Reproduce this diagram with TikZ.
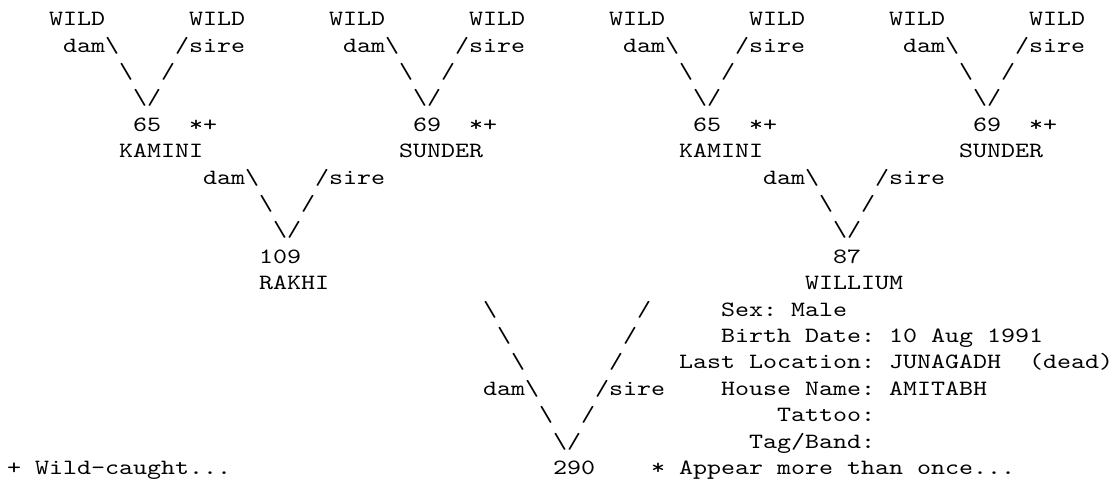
\documentclass[tikz,border=0pt]{standalone}
\usepackage{fontspec}
\setmonofont{lmmono10-regular.otf}[FakeStretch=1.224]
\newcommand{\bs}{\textbackslash}
\tikzset{
  txt/.style={anchor=base west, inner sep=0pt, outer sep=0pt,
    font=\ttfamily\fontsize{21.8}{26.4}\selectfont, text=black}
}
% \cellat{name}{col}{row}{text}
\newcommand{\cellat}[4]{\node[txt] (#1) at ({7+14*#2},{479-25.8-26.4*(#3-1)}) {#4};}
\begin{document}
\begin{tikzpicture}[x=1pt,y=1pt]
\useasboundingbox (0,0) rectangle (1118,479);
% row 1
\cellat{w1}{3}{1}{WILD}
\cellat{w2}{13}{1}{WILD}
\cellat{w3}{23}{1}{WILD}
\cellat{w4}{33}{1}{WILD}
\cellat{w5}{43}{1}{WILD}
\cellat{w6}{53}{1}{WILD}
\cellat{w7}{63}{1}{WILD}
\cellat{w8}{73}{1}{WILD}
% row 2
\cellat{d1}{4}{2}{dam\bs}
\cellat{s1}{12}{2}{/sire}
\cellat{d2}{24}{2}{dam\bs}
\cellat{s2}{32}{2}{/sire}
\cellat{d3}{44}{2}{dam\bs}
\cellat{s3}{52}{2}{/sire}
\cellat{d4}{64}{2}{dam\bs}
\cellat{s4}{72}{2}{/sire}
% row 3
\cellat{a1}{8}{3}{\bs}
\cellat{b1}{11}{3}{/}
\cellat{a2}{28}{3}{\bs}
\cellat{b2}{31}{3}{/}
\cellat{a3}{48}{3}{\bs}
\cellat{b3}{51}{3}{/}
\cellat{a4}{68}{3}{\bs}
\cellat{b4}{71}{3}{/}
% row 4
\cellat{v1}{9}{4}{\bs/}
\cellat{v2}{29}{4}{\bs/}
\cellat{v3}{49}{4}{\bs/}
\cellat{v4}{69}{4}{\bs/}
% row 5
\cellat{n1}{9}{5}{65}
\cellat{m1}{13}{5}{*+}
\cellat{n2}{29}{5}{69}
\cellat{m2}{33}{5}{*+}
\cellat{n3}{49}{5}{65}
\cellat{m3}{53}{5}{*+}
\cellat{n4}{69}{5}{69}
\cellat{m4}{73}{5}{*+}
% row 6
\cellat{k1}{8}{6}{KAMINI}
\cellat{su1}{28}{6}{SUNDER}
\cellat{k2}{48}{6}{KAMINI}
\cellat{su2}{68}{6}{SUNDER}
% row 7
\cellat{dd1}{14}{7}{dam\bs}
\cellat{ss1}{22}{7}{/sire}
\cellat{dd2}{54}{7}{dam\bs}
\cellat{ss2}{62}{7}{/sire}
% row 8
\cellat{aa1}{18}{8}{\bs}
\cellat{bb1}{21}{8}{/}
\cellat{aa2}{58}{8}{\bs}
\cellat{bb2}{61}{8}{/}
% row 9
\cellat{vv1}{19}{9}{\bs/}
\cellat{vv2}{59}{9}{\bs/}
% row 10
\cellat{r109}{18}{10}{109}
\cellat{r87}{59}{10}{87}
% row 11
\cellat{rakhi}{18}{11}{RAKHI}
\cellat{willium}{57}{11}{WILLIUM}
% rows 12-17 diagonals
\cellat{l12}{34}{12}{\bs}
\cellat{r12}{45}{12}{/}
\cellat{l13}{35}{13}{\bs}
\cellat{r13}{44}{13}{/}
\cellat{l14}{36}{14}{\bs}
\cellat{r14}{43}{14}{/}
\cellat{ddd}{34}{15}{dam\bs}
\cellat{sss}{42}{15}{/sire}
\cellat{l16}{38}{16}{\bs}
\cellat{r16}{41}{16}{/}
\cellat{vvv}{39}{17}{\bs/}
% info
\cellat{sex}{51}{12}{Sex: Male}
\cellat{birth}{51}{13}{Birth Date: 10 Aug 1991}
\cellat{loc}{48}{14}{Last Location: JUNAGADH}
\cellat{dead}{73}{14}{(dead)}
\cellat{house}{51}{15}{House Name: AMITABH}
\cellat{tattoo}{55}{16}{Tattoo:}
\cellat{tag}{53}{17}{Tag/Band:}
% row 18
\cellat{wildc}{0}{18}{+ Wild-caught...}
\cellat{r290}{39}{18}{290}
\cellat{appear}{46}{18}{* Appear more than once...}
\end{tikzpicture}
\end{document}
